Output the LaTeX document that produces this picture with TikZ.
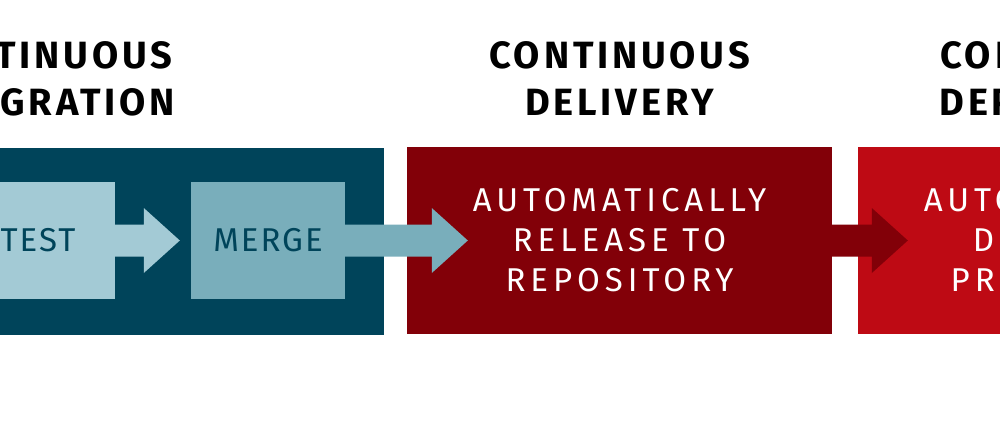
\documentclass[tikz,border=0pt]{standalone}
\usepackage{fontspec}
\setmainfont{Fira Sans}
\usetikzlibrary{calc}
\definecolor{tealdark}{HTML}{00445A}
\definecolor{teallight}{HTML}{A3CAD5}
\definecolor{tealmid}{HTML}{79AEBB}
\definecolor{reddark}{HTML}{820008}
\definecolor{redbright}{HTML}{BE0A14}
\newcommand\blockarrow[3]{%
  \fill[#1] ($(#2)+(0,-16)$) -- ($(#3)+(-36,-16)$) -- ($(#3)+(-36,-32.5)$) -- (#3)
    -- ($(#3)+(-36,32.5)$) -- ($(#3)+(-36,16)$) -- ($(#2)+(0,16)$) -- cycle;}
\tikzset{
  stage/.style={rectangle, inner sep=0pt, minimum width=425pt, minimum height=187pt},
  inner/.style={rectangle, inner sep=0pt, minimum width=154pt, minimum height=117pt,
    text=tealdark, font=\fontsize{33}{40}\selectfont\addfontfeature{LetterSpace=6}},
  heading/.style={anchor=base, text=black,
    font=\fontsize{38}{44}\selectfont\bfseries\addfontfeature{LetterSpace=10}},
  boxtext/.style={text=white, align=center,
    font=\fontsize{33}{40}\selectfont\addfontfeature{LetterSpace=15}},
}
\begin{document}
\begin{tikzpicture}[x=1pt,y=-1pt]
\useasboundingbox (0,0) rectangle (1000,420);
\clip (0,0) rectangle (1000,420);
% stages
\node[stage, fill=tealdark, minimum width=684pt] (ci) at (42,241) {};
\node[stage, fill=reddark] (cd) at (619.5,240.5) {};
\node[stage, fill=redbright] (cdep) at (1070.5,240.5) {};
% inner boxes
\node[inner, fill=teallight] (test) at (38,240.5) {TEST};
\node[inner, fill=tealmid] (merge) at (268,240.5) {MERGE};
% arrow tips
\coordinate (t1) at ($(merge.west)+(-11,0)$);
\coordinate (t2) at ($(cd.west)+(61,0)$);
\coordinate (t3) at ($(cdep.west)+(50,0)$);
\blockarrow{teallight}{test.east}{t1}
\blockarrow{tealmid}{merge.east}{t2}
\blockarrow{reddark}{cd.east}{t3}
% box texts
\node[boxtext] (cdtext) at (cd.center) {AUTOMATICALLY\\RELEASE TO\\REPOSITORY};
\node[boxtext] (cdeptext) at (cdep.center) {AUTOMATICALLY\\DEPLOY TO\\PRODUCTION};
% headings
\node[heading] (ci1) at (ci.center |- 0,68) {CONTINUOUS};
\node[heading] (ci2) at (ci.center |- 0,115) {INTEGRATION};
\node[heading] (cd1) at (cd.center |- 0,68) {CONTINUOUS};
\node[heading] (cd2) at (cd.center |- 0,115) {DELIVERY};
\node[heading] (cdep1) at (cdep.center |- 0,68) {CONTINUOUS};
\node[heading] (cdep2) at (cdep.center |- 0,115) {DEPLOYMENT};
\end{tikzpicture}
\end{document}
